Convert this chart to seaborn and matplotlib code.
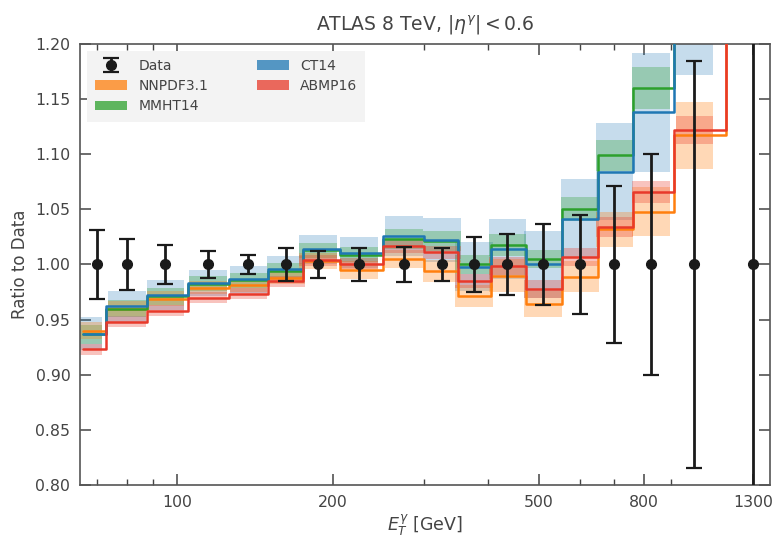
import numpy as np
import pandas as pd
import matplotlib
matplotlib.use("Agg")
import matplotlib.pyplot as plt
import seaborn as sns
from matplotlib.ticker import FixedLocator, FixedFormatter, NullFormatter
from matplotlib.patches import Patch

# ---------------- data ----------------
data_x = [70, 80, 95, 115, 137.5, 162.5, 187.5, 225, 275, 325, 375, 435, 510, 600, 700, 825, 1000, 1300]
data_y = [1.0] * 18
data_err = [0.031, 0.023, 0.018, 0.012, 0.009, 0.015, 0.012, 0.015, 0.016, 0.015,
            0.025, 0.028, 0.037, 0.045, 0.071, 0.100, 0.185, 0.5]

theory_x = [66, 80, 95, 115, 137.5, 162.5, 187.5, 225, 275, 325, 375, 435, 510, 600, 700, 825, 1000, 1300]

nnpdf = [0.940, 0.960, 0.969, 0.979, 0.981, 0.988, 1.003, 0.995, 1.005, 0.994,
         0.971, 0.990, 0.964, 0.989, 1.032, 1.048, 1.117, 1.35]
mmht = [0.9365, 0.960, 0.971, 0.9825, 0.9855, 0.994, 1.0127, 1.009, 1.023, 1.021,
        1.000, 1.0175, 1.005, 1.050, 1.099, 1.160, 1.26, 1.40]
ct14 = [0.937, 0.962, 0.972, 0.9834, 0.9864, 0.9955, 1.0136, 1.0106, 1.026, 1.022,
        0.998, 1.014, 1.000, 1.0415, 1.084, 1.138, 1.23, 1.40]
abmp = [0.923, 0.948, 0.958, 0.970, 0.9734, 0.985, 1.004, 1.0006, 1.0166, 1.011,
        0.985, 0.9985, 0.978, 1.0066, 1.034, 1.066, 1.122, 1.35]

ct14_err = [0.015, 0.014, 0.0135, 0.012, 0.012, 0.012, 0.013, 0.014, 0.018, 0.020,
            0.022, 0.027, 0.030, 0.036, 0.044, 0.054, 0.058, 0.07]
mmht_err = [0.009, 0.008, 0.008, 0.007, 0.007, 0.007, 0.007, 0.007, 0.009, 0.009,
            0.009, 0.010, 0.008, 0.011, 0.014, 0.019, 0.025, 0.03]
nnpdf_err = [0.008, 0.007, 0.007, 0.006, 0.006, 0.006, 0.007, 0.008, 0.008, 0.010,
             0.010, 0.015, 0.012, 0.014, 0.016, 0.022, 0.030, 0.04]
abmp_err = [0.005, 0.005, 0.005, 0.005, 0.005, 0.005, 0.005, 0.005, 0.006, 0.006,
            0.006, 0.008, 0.008, 0.008, 0.009, 0.010, 0.013, 0.02]

major_ticks = [100, 200, 500, 800, 1300]
major_labels = ["100", "200", "500", "800", "1300"]
minor_ticks = [70, 80, 90, 300, 400, 600, 700, 900]

series_names = ["NNPDF3.1", "MMHT14", "CT14", "ABMP16"]

# ---------------- style ----------------
sns.set_style("ticks")
plt.rcParams["font.family"] = ["DejaVu Sans"]
text_col = "#444444"
plt.rcParams.update({
    "text.color": text_col,
    "axes.labelcolor": text_col,
    "xtick.color": "#444444",
    "ytick.color": "#444444",
    "axes.edgecolor": "#555555",
})

colors = {"NNPDF3.1": "#ff7f0e", "MMHT14": "#2ca02c", "CT14": "#1f77b4", "ABMP16": "#e8392a"}

fig = plt.figure(figsize=(7.78, 5.39), dpi=100)
ax = fig.add_axes([0.1028, 0.1002, 0.887, 0.8182])
ax.set_xscale("log")

tx = np.array(theory_x)
band_lo, band_hi = 0.92, 1.088

values = {"NNPDF3.1": nnpdf, "MMHT14": mmht, "CT14": ct14, "ABMP16": abmp}
errors = {"NNPDF3.1": nnpdf_err, "MMHT14": mmht_err, "CT14": ct14_err, "ABMP16": abmp_err}

# bands
for name, alpha in [("CT14", 0.25), ("MMHT14", 0.3), ("NNPDF3.1", 0.3), ("ABMP16", 0.3)]:
    v = np.array(values[name]); e = np.array(errors[name])
    ax.bar(tx * band_lo, 2 * e, bottom=v - e, width=tx * (band_hi - band_lo),
           align="edge", color=colors[name], alpha=alpha, linewidth=0, zorder=1)

# step lines
df = pd.DataFrame({"x": np.tile(tx, 4),
                   "y": np.concatenate([values[n] for n in series_names]),
                   "pdf": np.repeat(series_names, len(tx))})
for name in ["NNPDF3.1", "MMHT14", "CT14", "ABMP16"]:
    sub = df[df["pdf"] == name]
    sns.lineplot(data=sub, x="x", y="y", ax=ax, drawstyle="steps-mid",
                 color=colors[name], linewidth=1.8, zorder=3, legend=False,
                 estimator=None, sort=False)

# data
eb = ax.errorbar(data_x, data_y, yerr=data_err, fmt="o", color="#1a1a1a",
                 markersize=7, elinewidth=2, capsize=6, capthick=1.6, zorder=5)

ax.set_xlim(65, 1400)
ax.set_ylim(0.80, 1.20)
ax.set_yticks(np.arange(0.80, 1.2001, 0.05))
ax.set_yticklabels([f"{t:.2f}" for t in np.arange(0.80, 1.2001, 0.05)])
ax.xaxis.set_major_locator(FixedLocator(major_ticks))
ax.xaxis.set_major_formatter(FixedFormatter(major_labels))
ax.xaxis.set_minor_locator(FixedLocator(minor_ticks))
ax.xaxis.set_minor_formatter(NullFormatter())
ax.tick_params(which="both", direction="in", top=True, right=True, labelsize=11.3)
ax.tick_params(which="major", length=8, width=1.1, pad=7)
ax.tick_params(which="minor", length=4, width=1.0)
for s in ax.spines.values():
    s.set_linewidth(1.2)

ax.set_xlabel(r"$E_T^\gamma$ [GeV]", fontsize=12.5, labelpad=2)
ax.set_ylabel("Ratio to Data", fontsize=12, labelpad=4)
ax.set_title(r"ATLAS 8 TeV, $|\eta^\gamma| < 0.6$", fontsize=13.5, pad=10, color=text_col)

handles = [eb] + [Patch(facecolor=colors[n], alpha=0.75, edgecolor="none") for n in ["NNPDF3.1", "MMHT14", "CT14", "ABMP16"]]
labels = ["Data", "NNPDF3.1", "MMHT14", "CT14", "ABMP16"]
leg = ax.legend(handles, labels, loc="upper left", bbox_to_anchor=(0.01, 0.985),
                borderaxespad=0, ncol=2, fontsize=10, frameon=True, fancybox=False,
                handlelength=2.3, columnspacing=3.5, labelspacing=0.45, borderpad=0.6)
leg.get_frame().set_facecolor("#f3f3f3")
leg.get_frame().set_edgecolor("none")
leg.get_frame().set_alpha(1)
for t in leg.get_texts():
    t.set_color("#444444")

fig.savefig("out.png", dpi=100)
